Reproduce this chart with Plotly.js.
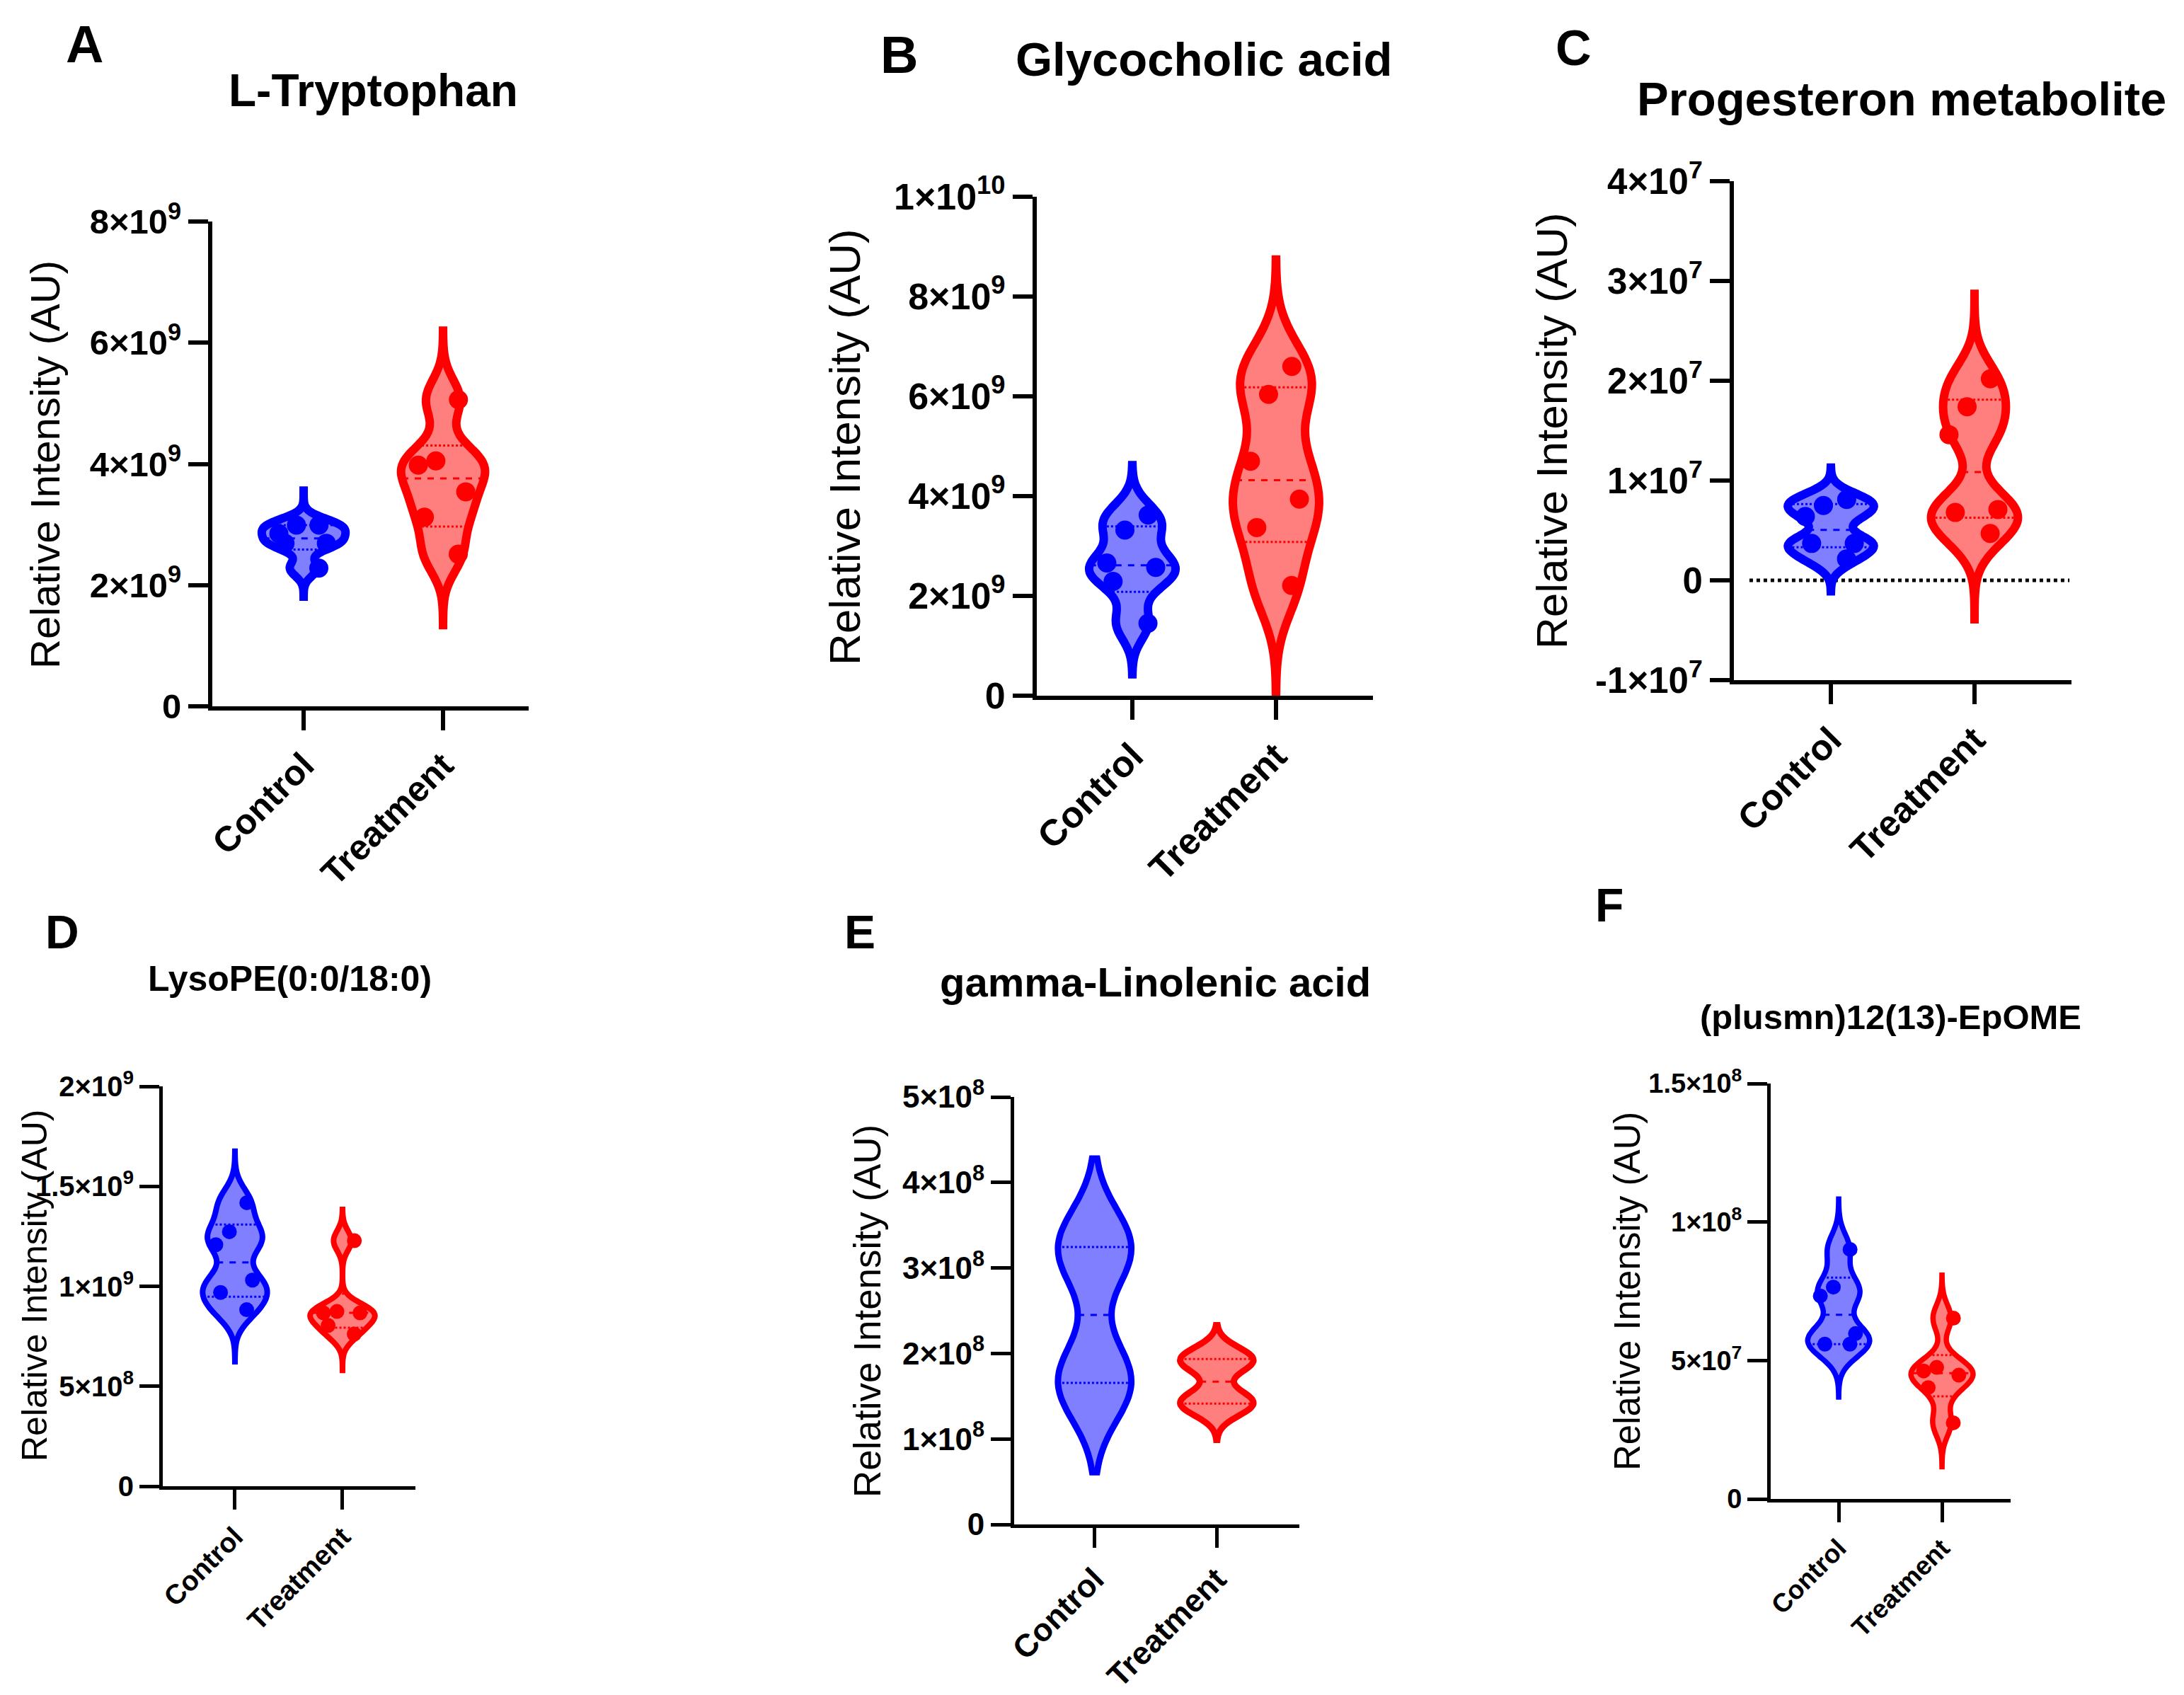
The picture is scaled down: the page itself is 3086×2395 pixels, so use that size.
<!DOCTYPE html>
<html><head><meta charset="utf-8">
<script src="https://cdn.plot.ly/plotly-3.0.1.min.js"></script>
<style>html,body{margin:0;padding:0;background:#fff}</style>
</head><body><div id="chart" style="width:3086px;height:2395px"></div>
<script>
// ---------- DATA ----------
const categories = ['Control', 'Treatment'];

// A: L-Tryptophan
const trpControl   = [2.28e9, 2.69e9, 2.69e9, 2.85e9, 2.99e9, 2.99e9];
const trpTreatment = [2.51e9, 3.12e9, 3.54e9, 3.98e9, 4.05e9, 5.06e9];
// B: Glycocholic acid
const gcaControl   = [1.45e9, 2.29e9, 2.57e9, 2.66e9, 3.32e9, 3.62e9];
const gcaTreatment = [2.21e9, 3.37e9, 3.94e9, 4.70e9, 6.04e9, 6.60e9];
// C: Progesteron metabolite
const progControl   = [2.15e6, 3.7e6, 3.7e6, 6.4e6, 7.5e6, 8.1e6];
const progTreatment = [4.7e6, 6.8e6, 7.1e6, 14.6e6, 17.4e6, 20.2e6];
// D: LysoPE(0:0/18:0)
const lpeControl   = [0.883e9, 0.969e9, 1.031e9, 1.208e9, 1.273e9, 1.418e9];
const lpeTreatment = [0.761e9, 0.804e9, 0.867e9, 0.867e9, 0.874e9, 1.228e9];
// E: gamma-Linolenic acid (points not shown)
const glaControl   = [1.58e8, 1.68e8, 1.75e8, 3.15e8, 3.22e8, 3.32e8];
const glaTreatment = [1.36e8, 1.43e8, 1.47e8, 1.87e8, 1.92e8, 1.98e8];
// F: (plusmn)12(13)-EpOME
const epomeControl   = [5.59e7, 5.59e7, 5.97e7, 7.33e7, 7.65e7, 9.01e7];
const epomeTreatment = [2.75e7, 4.02e7, 4.47e7, 4.62e7, 4.75e7, 6.53e7];

// violin extents [control, treatment]
const trpSpans   = [[1.81e9, 3.63e9], [1.34e9, 6.2e9]];
const gcaSpans   = [[0.43e9, 4.62e9], [0.05e9, 8.74e9]];
const progSpans  = [[-1.1e6, 11.3e6], [-3.9e6, 28.7e6]];
const lpeSpans   = [[0.623e9, 1.675e9], [0.58e9, 1.384e9]];
const glaSpans   = [[0.61e8, 4.28e8], [0.99e8, 2.33e8]];
const epomeSpans = [[3.68e7, 10.83e7], [1.16e7, 8.08e7]];

// kernel bandwidths [control, treatment]
const trpBw   = [0.13e9, 0.33e9];
const gcaBw   = [0.33e9, 0.68e9];
const progBw  = [1.0e6, 2.3e6];
const lpeBw   = [0.075e9, 0.05e9];
const glaBw   = [0.45e8, 0.14e8];
const epomeBw = [0.55e7, 0.48e7];

// titles
const panelLetters = ['A', 'B', 'C', 'D', 'E', 'F'];
const panelTitles = ['L-Tryptophan', 'Glycocholic acid', 'Progesteron metabolite',
  'LysoPE(0:0/18:0)', 'gamma-Linolenic acid', '(plusmn)12(13)-EpOME'];
const yTitle = 'Relative Intensity (AU)';

// y ticks
const trpTicks = [0, 2e9, 4e9, 6e9, 8e9];
const trpTickText = ['0', '2×10<sup>9</sup>', '4×10<sup>9</sup>', '6×10<sup>9</sup>', '8×10<sup>9</sup>'];
const gcaTicks = [0, 2e9, 4e9, 6e9, 8e9, 1e10];
const gcaTickText = ['0', '2×10<sup>9</sup>', '4×10<sup>9</sup>', '6×10<sup>9</sup>', '8×10<sup>9</sup>', '1×10<sup>10</sup>'];
const progTicks = [-1e7, 0, 1e7, 2e7, 3e7, 4e7];
const progTickText = ['-1×10<sup>7</sup>', '0', '1×10<sup>7</sup>', '2×10<sup>7</sup>', '3×10<sup>7</sup>', '4×10<sup>7</sup>'];
const lpeTicks = [0, 5e8, 1e9, 1.5e9, 2e9];
const lpeTickText = ['0', '5×10<sup>8</sup>', '1×10<sup>9</sup>', '1.5×10<sup>9</sup>', '2×10<sup>9</sup>'];
const glaTicks = [0, 1e8, 2e8, 3e8, 4e8, 5e8];
const glaTickText = ['0', '1×10<sup>8</sup>', '2×10<sup>8</sup>', '3×10<sup>8</sup>', '4×10<sup>8</sup>', '5×10<sup>8</sup>'];
const epomeTicks = [0, 5e7, 1e8, 1.5e8];
const epomeTickText = ['0', '5×10<sup>7</sup>', '1×10<sup>8</sup>', '1.5×10<sup>8</sup>'];

// ---------- LAYOUT / STYLE ----------
const W = 3086, H = 2395;
const FONT = 'Liberation Sans, Arial, sans-serif';
const BLUE = '#0000ff', RED = '#ff0000';
const BLUE_FILL = 'rgba(0,0,255,0.5)', RED_FILL = 'rgba(255,0,0,0.5)';
const VW = 0.6;

const panels = [
  {data: [trpControl, trpTreatment], spans: trpSpans, bw: trpBw, ticks: trpTicks, tt: trpTickText, yr: [0, 8e9],
   px: [300, 747], py: [313, 998], xr: [-0.655, 1.614], tfs: 49, xfs: 50, lw: 12, alw: 6, ms: 27,
   letter: [120, 62, 74], title: [527, 128, 64], ytitle: [63, 657, 58]},
  {data: [gcaControl, gcaTreatment], spans: gcaSpans, bw: gcaBw, ticks: gcaTicks, tt: gcaTickText, yr: [0, 1e10],
   px: [1465, 1940], py: [278, 983], xr: [-0.665, 1.675], tfs: 52, xfs: 52, lw: 12, alw: 6, ms: 27,
   letter: [1270, 78, 74], title: [1701, 84, 67], ytitle: [1193, 632, 62]},
  {data: [progControl, progTreatment], spans: progSpans, bw: progBw, ticks: progTicks, tt: progTickText, yr: [-1e7, 4e7],
   px: [2450, 2927], py: [256, 961], xr: [-0.675, 1.675], tfs: 51, xfs: 51, lw: 12, alw: 6, ms: 27,
   letter: [2223, 68, 70], title: [2687, 140, 67], ytitle: [2193, 609, 62], zeroDot: true},
  {data: [lpeControl, lpeTreatment], spans: lpeSpans, bw: lpeBw, ticks: lpeTicks, tt: lpeTickText, yr: [0, 2e9],
   px: [230, 587], py: [1535, 2100], xr: [-0.671, 1.678], tfs: 40, xfs: 39, lw: 8, alw: 5, ms: 21,
   letter: [88, 1317, 66], title: [409, 1383, 50], ytitle: [49, 1817, 50]},
  {data: [glaControl, glaTreatment], spans: glaSpans, bw: glaBw, ticks: glaTicks, tt: glaTickText, yr: [0, 5e8],
   px: [1433, 1836], py: [1550, 2154], xr: [-0.659, 1.676], tfs: 44, xfs: 45, lw: 9, alw: 5, ms: 0,
   letter: [1215, 1317, 66], title: [1632, 1387, 58], ytitle: [1225, 1853, 53]},
  {data: [epomeControl, epomeTreatment], spans: epomeSpans, bw: epomeBw, ticks: epomeTicks, tt: epomeTickText, yr: [0, 1.5e8],
   px: [2502, 2841], py: [1531, 2118], xr: [-0.658, 1.664], tfs: 38, xfs: 37, lw: 7.5, alw: 5, ms: 21,
   letter: [2274, 1279, 66], title: [2671, 1437, 49], ytitle: [2299, 1825, 51]},
];

// ---------- KDE helpers (same gaussian KDE as plotly violins) ----------
function kdeFn(vals, bw) {
  const n = vals.length;
  return t => { let s = 0; for (const v of vals) { const z = (t - v) / bw; s += Math.exp(-0.5 * z * z); }
    return s / (n * bw * Math.sqrt(2 * Math.PI)); };
}
function maxKde(vals, bw, span) {
  const f = kdeFn(vals, bw), dist = span[1] - span[0];
  const n = Math.ceil(dist / (bw / 3)), step = dist / n;
  let m = 0; for (let k = 0; k <= n; k++) m = Math.max(m, f(span[0] + k * step));
  return m;
}
function quantile(vals, p) {
  const s = vals.slice().sort((a, b) => a - b);
  const pos = (s.length + 1) * p, i = Math.floor(pos), fr = pos - i;
  if (i < 1) return s[0];
  if (i >= s.length) return s[s.length - 1];
  return s[i - 1] + fr * (s[i] - s[i - 1]);
}

const traces = [], shapes = [], annotations = [];
const layout = {
  width: W, height: H, margin: {l: 0, r: 0, t: 0, b: 0},
  paper_bgcolor: '#fff', plot_bgcolor: 'rgba(0,0,0,0)',
  showlegend: false, violinmode: 'overlay', hovermode: false,
  font: {family: FONT, color: '#000'},
};

panels.forEach((p, i) => {
  const n = i + 1, sx = n === 1 ? '' : String(n);
  const xa = 'x' + sx, ya = 'y' + sx;
  layout['xaxis' + sx] = {
    domain: [p.px[0] / W, p.px[1] / W], anchor: ya, type: 'category',
    categoryorder: 'array', categoryarray: categories, range: p.xr,
    showline: true, linecolor: '#000', linewidth: p.alw, ticks: 'outside', ticklen: 28,
    tickwidth: p.alw, tickcolor: '#000', tickangle: -45, showgrid: false, zeroline: false,
    tickfont: {family: FONT, size: p.xfs, color: '#000', weight: 'bold'}, fixedrange: true,
  };
  layout['yaxis' + sx] = {
    domain: [1 - p.py[1] / H, 1 - p.py[0] / H], anchor: xa, range: p.yr,
    tickmode: 'array', tickvals: p.ticks, ticktext: p.tt,
    showline: true, linecolor: '#000', linewidth: p.alw, ticks: 'outside', ticklen: 28,
    tickwidth: p.alw, tickcolor: '#000', showgrid: false, zeroline: false,
    tickfont: {family: FONT, size: p.tfs, color: '#000', weight: 'bold'}, fixedrange: true,
  };
  p.data.forEach((vals, g) => {
    const col = g === 0 ? BLUE : RED, fill = g === 0 ? BLUE_FILL : RED_FILL;
    traces.push({
      type: 'violin', x0: categories[g], y: vals, xaxis: xa, yaxis: ya,
      bandwidth: p.bw[g], spanmode: 'manual', span: p.spans[g], width: VW, scalemode: 'width',
      points: p.ms > 0 ? 'all' : false, pointpos: 0, jitter: 0.7,
      fillcolor: fill, line: {color: col, width: p.lw},
      marker: {color: col, size: p.ms, line: {width: 0}},
      box: {visible: false}, meanline: {visible: false}, hoverinfo: 'skip',
    });
    const f = kdeFn(vals, p.bw[g]), m = maxKde(vals, p.bw[g], p.spans[g]);
    [[0.25, 'dot'], [0.5, 'dash'], [0.75, 'dot']].forEach(([q, dash]) => {
      const y = quantile(vals, q);
      const hw = f(y) / m * VW / 2;
      shapes.push({type: 'line', xref: xa, yref: ya, x0: g - hw, x1: g + hw, y0: y, y1: y,
        line: {color: col, width: 3, dash: dash}, layer: 'above'});
    });
  });
  if (p.zeroDot) {
    shapes.push({type: 'line', xref: xa + ' domain', yref: ya, x0: 0.046, x1: 0.994, y0: 0, y1: 0,
      line: {color: '#000', width: 5, dash: 'dot'}, layer: 'below'});
  }
  annotations.push({xref: 'paper', yref: 'paper', x: p.letter[0] / W, y: 1 - p.letter[1] / H,
    xanchor: 'center', yanchor: 'middle', text: panelLetters[i], showarrow: false,
    font: {family: FONT, size: p.letter[2], color: '#000', weight: 'bold'}});
  annotations.push({xref: 'paper', yref: 'paper', x: p.title[0] / W, y: 1 - p.title[1] / H,
    xanchor: 'center', yanchor: 'middle', text: panelTitles[i], showarrow: false,
    font: {family: FONT, size: p.title[2], color: '#000', weight: 'bold'}});
  annotations.push({xref: 'paper', yref: 'paper', x: p.ytitle[0] / W, y: 1 - p.ytitle[1] / H,
    xanchor: 'center', yanchor: 'middle', text: yTitle, textangle: -90, showarrow: false,
    font: {family: FONT, size: p.ytitle[2], color: '#000'}});
});
layout.shapes = shapes;
layout.annotations = annotations;

Plotly.newPlot('chart', traces, layout, {staticPlot: true, displayModeBar: false});
</script></body></html>
